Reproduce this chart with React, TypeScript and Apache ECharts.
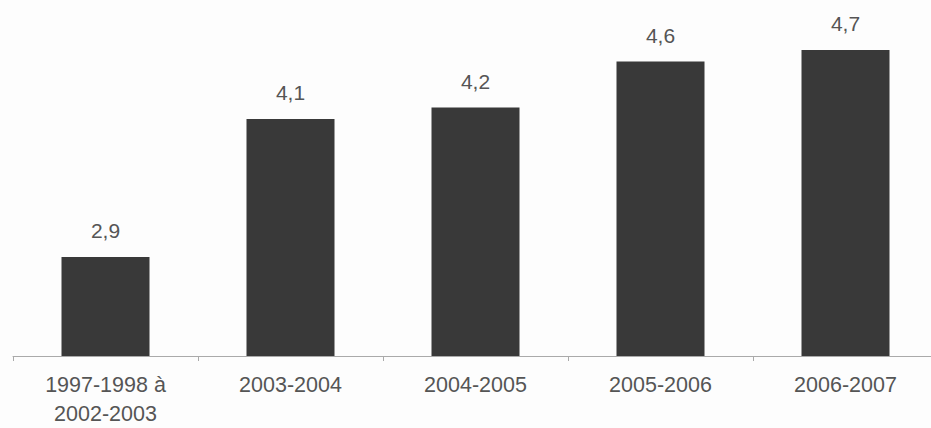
import React, { useEffect, useRef } from "react";
import * as echarts from "echarts";

const categories = ["1997-1998 à\n2002-2003", "2003-2004", "2004-2005", "2005-2006", "2006-2007"];
const values = [2.9, 4.1, 4.2, 4.6, 4.7];

export default function App() {
  const ref = useRef<HTMLDivElement>(null);
  useEffect(() => {
    document.body.style.margin = "0";
    const chart = echarts.init(ref.current!, null, { renderer: "svg" });
    chart.setOption({
      animation: false,
      backgroundColor: "#fdfdfd",
      grid: { left: 13, right: 2, top: 11, bottom: 72, containLabel: false },
      xAxis: {
        type: "category",
        data: categories,
        axisLine: { show: true, lineStyle: { color: "#aaaaaa", width: 1 } },
        axisTick: { show: true, length: 5, lineStyle: { color: "#aaaaaa" } },
        axisLabel: {
          color: "#555555",
          fontFamily: "Liberation Sans, Arial, sans-serif",
          fontSize: 21.5,
          lineHeight: 29,
          margin: 14,
          interval: 0,
        },
      },
      yAxis: {
        type: "value",
        min: 2.04,
        max: 5.04,
        show: false,
        splitLine: { show: false },
      },
      series: [
        {
          type: "bar",
          data: values,
          barWidth: 88,
          itemStyle: { color: "#393939" },
          label: {
            show: true,
            position: "top",
            distance: 16,
            color: "#555555",
            fontFamily: "Liberation Sans, Arial, sans-serif",
            fontSize: 21,
            formatter: (p: any) => String(p.value).replace(".", ","),
          },
        },
      ],
    });
    return () => chart.dispose();
  }, []);
  return (
    <div style={{ width: 931, height: 428, overflow: "hidden", background: "#fdfdfd" }}>
      <div ref={ref} style={{ width: 940, height: 428 }} />
    </div>
  );
}
